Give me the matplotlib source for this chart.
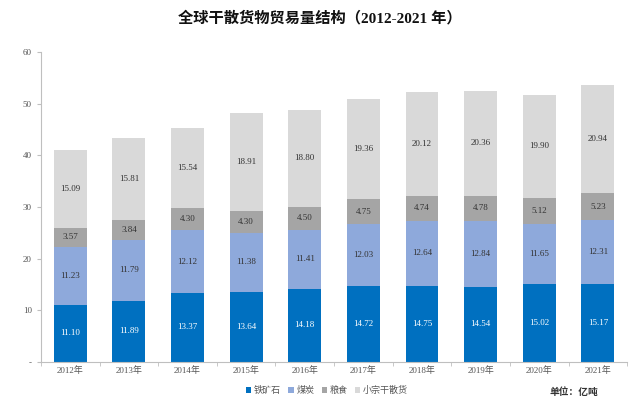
import numpy as np
import matplotlib.pyplot as plt

plt.rcParams['font.family'] = ['Liberation Serif', 'Noto Sans CJK SC']

# data (亿吨)
years = ['2012年', '2013年', '2014年', '2015年', '2016年', '2017年', '2018年', '2019年', '2020年', '2021年']
iron_ore = [11.10, 11.89, 13.37, 13.64, 14.18, 14.72, 14.75, 14.54, 15.02, 15.17]
coal = [11.23, 11.79, 12.12, 11.38, 11.41, 12.03, 12.64, 12.84, 11.65, 12.31]
grain = [3.57, 3.84, 4.30, 4.30, 4.50, 4.75, 4.74, 4.78, 5.12, 5.23]
minor_bulk = [15.09, 15.81, 15.54, 18.91, 18.80, 19.36, 20.12, 20.36, 19.90, 20.94]
series_names = ['铁矿石', '煤炭', '粮食', '小宗干散货']

colors = ['#0070C0', '#8EA9DB', '#A5A5A5', '#D9D9D9']
text_colors = ['white', '#333333', '#333333', '#333333']

fig = plt.figure(figsize=(6.4, 3.98), dpi=100)
ax = fig.add_axes([0.064, 0.0905, 0.916, 0.7785])

x = np.arange(len(years))
bottom = np.zeros(len(years))
for vals, name, c, tc in zip([iron_ore, coal, grain, minor_bulk], series_names, colors, text_colors):
    vals = np.array(vals)
    ax.bar(x, vals, 0.56, bottom=bottom, color=c, label=name)
    for xi, b, v in zip(x, bottom, vals):
        ax.text(xi, b + v / 2, f'{v:.2f}', ha='center', va='center', fontsize=6.5, color=tc)
    bottom += vals

ax.set_xlim(-0.5, len(years) - 0.5)
ax.set_ylim(0, 60)
ax.set_yticks(range(0, 61, 10))
ax.set_yticklabels(['-'] + [str(v) for v in range(10, 61, 10)])
ax.set_xticks(x)
ax.set_xticklabels(years)
ax.set_xticks(np.arange(-0.5, len(years), 1), minor=True)
ax.tick_params(axis='x', which='major', length=0, labelsize=6.5, colors='#555555', pad=3)
ax.tick_params(axis='x', which='minor', length=3, color='#BFBFBF')
ax.tick_params(axis='y', length=3, color='#BFBFBF', labelsize=6.5, labelcolor='#555555')
for s in ['top', 'right']:
    ax.spines[s].set_visible(False)
for s in ['left', 'bottom']:
    ax.spines[s].set_color('#BFBFBF')
    ax.spines[s].set_linewidth(0.8)

fig.text(0.5, 0.955, '全球干散货物贸易量结构（2012-2021 年）', ha='center', va='center',
         fontsize=11, fontweight='bold', color='#111111')

fig.legend(loc='center', bbox_to_anchor=(0.511, 0.018), ncol=4, frameon=False,
           handlelength=0.6, handleheight=0.6, handletextpad=0.3,
           columnspacing=0.8, labelcolor='#555555', borderpad=0,
           prop={'family': ['Noto Sans CJK SC'], 'size': 6.5})
fig.text(0.897, 0.016, '单位：亿吨', ha='center', va='center', fontsize=7,
         family=['Noto Sans CJK SC'], fontweight='bold', color='#333333')

fig.savefig('out.png', dpi=100)
